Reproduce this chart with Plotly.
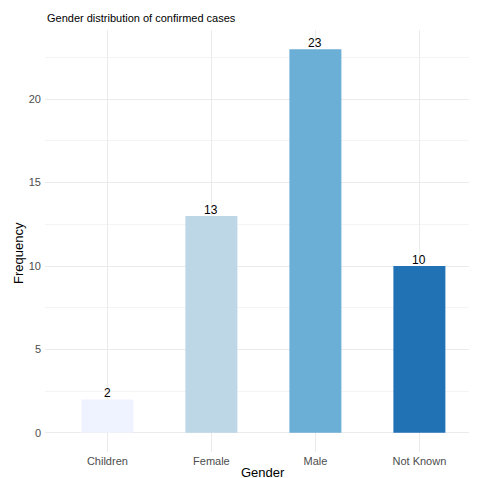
import plotly.graph_objects as go

categories = ["Children", "Female", "Male", "Not Known"]
values = [2, 13, 23, 10]
colors = ["#EFF3FF", "#BDD7E7", "#6BAED6", "#2171B5"]
y_ticks = [0, 5, 10, 15, 20]

FONT = "Liberation Sans, Arial, Helvetica, sans-serif"

fig = go.Figure()
fig.add_trace(go.Bar(
    x=categories, y=values, width=0.5,
    marker=dict(color=colors, line=dict(width=0)),
    showlegend=False, hoverinfo="x+y",
))

for c, v in zip(categories, values):
    fig.add_annotation(x=c, y=v, text=str(v), showarrow=False,
                       xanchor="center", yanchor="bottom", yshift=-3,
                       font=dict(family=FONT, size=12, color="black"))

fig.update_layout(
    width=477, height=470,
    margin=dict(l=37, r=0, t=22, b=26),
    paper_bgcolor="white", plot_bgcolor="white",
    font=dict(family=FONT),
    bargap=0.5,
    xaxis=dict(
        range=[-0.6, 3.631], showgrid=True, gridcolor="#EBEBEB", gridwidth=1,
        zeroline=False, showline=False, ticks="",
        tickfont=dict(size=11, color="#4D4D4D"), ticklabelstandoff=1,
    ),
    yaxis=dict(
        range=[-1.15, 24.15], tickvals=y_ticks, showgrid=True,
        gridcolor="#EBEBEB", gridwidth=1, zeroline=False, showline=False, ticks="",
        tickfont=dict(size=11, color="#4D4D4D"), ticklabelstandoff=3,
        minor=dict(dtick=2.5, tick0=2.5, showgrid=True, gridcolor="#F4F4F4", gridwidth=0.6),
    ),
)

fig.add_annotation(text="Gender distribution of confirmed cases", xref="paper", yref="paper",
                   x=0, y=1, yshift=12, xanchor="left", yanchor="middle",
                   showarrow=False, font=dict(family=FONT, size=11, color="black"))
fig.add_annotation(text="Gender", x=1.5, xref="x", yref="paper", y=0, yshift=-30,
                   xanchor="center", yanchor="bottom", showarrow=False,
                   font=dict(family=FONT, size=13, color="black"))
fig.add_annotation(text="Frequency", xref="paper", yref="paper", x=0, xshift=-27,
                   y=0.5, yshift=-12, textangle=-90, xanchor="center", yanchor="middle",
                   showarrow=False, font=dict(family=FONT, size=13, color="black"))

fig.write_html("out.html")
